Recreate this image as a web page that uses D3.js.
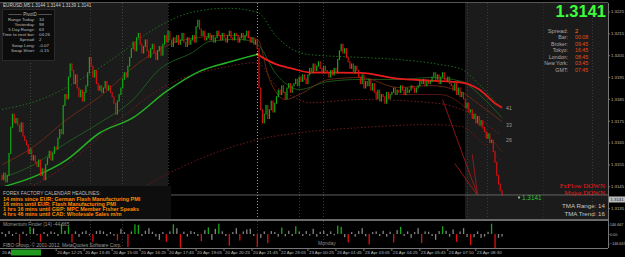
<!DOCTYPE html>
<html>
<head>
<meta charset="utf-8">
<script src="https://cdn.jsdelivr.net/npm/d3@7"></script>
<style>
  body { margin: 0; background: #000; }
  svg { display: block; font-family: "Liberation Sans", Arial, sans-serif; }
</style>
</head>
<body>
<div id="chart"></div>
<script>
// EURUSD M5 closes, one per bar
const closes = [
  1.3148, 1.3151, 1.3147, 1.3150, 1.3160, 1.3172, 1.3178, 1.3174, 1.3176, 1.3173,
  1.3170, 1.3174, 1.3168, 1.3166, 1.3164, 1.3160, 1.3162, 1.3157, 1.3159, 1.3156,
  1.3154, 1.3157, 1.3150, 1.3153, 1.3148, 1.3155, 1.3158, 1.3161, 1.3157, 1.3160,
  1.3163, 1.3162, 1.3167, 1.3171, 1.3169, 1.3182, 1.3187, 1.3185, 1.3195, 1.3201,
  1.3198, 1.3192, 1.3196, 1.3190, 1.3186, 1.3189, 1.3184, 1.3188, 1.3191, 1.3197,
  1.3204, 1.3200, 1.3195, 1.3198, 1.3192, 1.3189, 1.3191, 1.3188, 1.3190, 1.3193,
  1.3189, 1.3191, 1.3188, 1.3186, 1.3183, 1.3178, 1.3184, 1.3187, 1.3190, 1.3194,
  1.3197, 1.3195, 1.3200, 1.3204, 1.3208, 1.3211, 1.3207, 1.3213, 1.3215, 1.3210,
  1.3206, 1.3209, 1.3212, 1.3207, 1.3204, 1.3208, 1.3210, 1.3206, 1.3203, 1.3207,
  1.3209, 1.3205, 1.3210, 1.3214, 1.3211, 1.3216, 1.3212, 1.3209, 1.3213, 1.3211,
  1.3214, 1.3210, 1.3212, 1.3215, 1.3211, 1.3209, 1.3213, 1.3210, 1.3212, 1.3214,
  1.3211, 1.3218, 1.3221, 1.3217, 1.3214, 1.3216, 1.3212, 1.3213, 1.3215, 1.3212,
  1.3214, 1.3211, 1.3213, 1.3216, 1.3214, 1.3212, 1.3215, 1.3213, 1.3211, 1.3214,
  1.3216, 1.3213, 1.3212, 1.3215, 1.3214, 1.3211, 1.3213, 1.3215, 1.3212, 1.3214,
  1.3216, 1.3213, 1.3211, 1.3213, 1.3210, 1.3212, 1.3208, 1.3190, 1.3180, 1.3174,
  1.3178, 1.3182, 1.3176, 1.3180, 1.3184, 1.3179, 1.3183, 1.3186, 1.3189, 1.3187,
  1.3191, 1.3188, 1.3185, 1.3190, 1.3192, 1.3188, 1.3191, 1.3192, 1.3194, 1.3191,
  1.3195, 1.3193, 1.3196, 1.3194, 1.3192, 1.3196, 1.3199, 1.3197, 1.3201, 1.3198,
  1.3200, 1.3202, 1.3199, 1.3197, 1.3200, 1.3198, 1.3197, 1.3195, 1.3198, 1.3196,
  1.3199, 1.3197, 1.3203, 1.3207, 1.3210, 1.3206, 1.3208, 1.3204, 1.3202, 1.3199,
  1.3201, 1.3197, 1.3200, 1.3198, 1.3195, 1.3192, 1.3196, 1.3190, 1.3193, 1.3191,
  1.3194, 1.3189, 1.3192, 1.3188, 1.3185, 1.3189, 1.3184, 1.3187, 1.3186, 1.3183,
  1.3188, 1.3185, 1.3187, 1.3188, 1.3190, 1.3187, 1.3189, 1.3188, 1.3191, 1.3189,
  1.3187, 1.3190, 1.3188, 1.3189, 1.3191, 1.3190, 1.3188, 1.3190, 1.3191, 1.3193,
  1.3192, 1.3194, 1.3191, 1.3193, 1.3192, 1.3193, 1.3195, 1.3197, 1.3194, 1.3196,
  1.3192, 1.3195, 1.3197, 1.3194, 1.3193, 1.3195, 1.3192, 1.3191, 1.3189, 1.3192,
  1.3187, 1.3190, 1.3186, 1.3188, 1.3185, 1.3181, 1.3183, 1.3179, 1.3180, 1.3176,
  1.3178, 1.3174, 1.3177, 1.3173, 1.3175, 1.3172, 1.3170, 1.3167, 1.3169, 1.3165,
  1.3166, 1.3161, 1.3156, 1.3150, 1.3146, 1.3143, 1.3141
];
const firstOpen = 1.3150;

// moving average / band lines, sampled at bar indices
const maIdx = [0, 18, 37, 56, 75, 94, 113, 129, 146, 157, 166, 176, 205, 226, 245, 263, 273, 283, 286];
const maVal = [1.31446, 1.31493, 1.31571, 1.31695, 1.31764, 1.31884, 1.31976, 1.32017, 1.32054, 1.32008,
  1.31989, 1.31971, 1.31969, 1.31943, 1.31934, 1.31925, 1.31893, 1.31824, 1.31810];
const upIdx = [0, 22, 45, 67, 85, 109, 129, 146, 157, 166, 176, 205, 227, 250, 263, 273, 285];
const upVal = [1.31801, 1.31847, 1.31939, 1.32054, 1.32160, 1.32247, 1.32265, 1.32247, 1.32136, 1.32077,
  1.32053, 1.32040, 1.32030, 1.32008, 1.31985, 1.31916, 1.31810];
const lowIdx = [56, 81, 112, 146, 170, 204, 244, 263, 273, 285];
const lowVal = [1.31318, 1.31447, 1.31571, 1.31663, 1.31695, 1.31718, 1.31732, 1.31723, 1.31663, 1.31571];
const midIdx = [0, 33, 67, 90, 129, 146, 157, 166, 176, 205, 245, 263, 285];
const midVal = [1.31387, 1.31525, 1.31755, 1.31893, 1.31998, 1.32016, 1.31906, 1.31861, 1.31833, 1.31847,
  1.31833, 1.31801, 1.31686];
const fastIdx = [0, 18, 37, 56, 75, 90, 109, 119, 136, 146, 157, 170, 187, 205, 227, 245, 263, 273, 286];
const fastVal = [1.31488, 1.31548, 1.31649, 1.31741, 1.31847, 1.31985, 1.32063, 1.32113, 1.32123, 1.32100,
  1.31962, 1.31893, 1.31930, 1.31939, 1.31939, 1.31948, 1.31930, 1.31870, 1.31764];
const brownIdx = [0, 18, 37, 56, 81, 96, 113, 130, 146, 153, 162, 170, 187, 205, 227, 245, 262, 273, 286];
const brownVal = [1.31548, 1.31631, 1.31755, 1.31861, 1.32031, 1.32100, 1.32132, 1.32141, 1.32123, 1.31939,
  1.31847, 1.31870, 1.31939, 1.31948, 1.31902, 1.31911, 1.31884, 1.31824, 1.31746];
const red2Idx = [227, 250, 263, 273, 286];
const red2Val = [1.31870, 1.31870, 1.31824, 1.31732, 1.31608];

// hand drawn trend lines [bar, price, bar, price]
const trendLines = [
  [252, 1.31847, 272, 1.31410],
  [259, 1.31554, 271.5, 1.31414],
  [269, 1.31596, 272, 1.31410]
];

// momentum histogram, one value every second bar
const momentum = [
  30, -40, 45, -30, 20, -180, 35, -25, 110, 90, -20, -120, 30, -35, 40, 25, -30, 160, 50, 120,
  -130, 40, -45, 35, 50, -20, -120, 45, 55, 40, -30, 30, -25, -100, 80, 30, -200, 40, 150, 140,
  -30, 50, 90, 35, -40, -90, 30, -120, 40, 150, 90, -210, 35, -40, 45, 30, -30, -110, 60, 100,
  -90, 80, 160, 40, -30, -180, 30, 90, -100, 40, 70, 80, -30, -200, -60, 40, -140, 45, 30, -40,
  100, -35, 50, -30, 120, 40, -30, 45, -25, 80, -40, 35, 50, -30, 40, -20, 130, 110, -50, -130,
  30, -40, 45, 90, -35, -160, 30, 40, -30, 50, -40, 35, -130, 60, 110, -30, 40, -60, 30, 90,
  -140, 40, 35, -30, -90, 45, 120, 50, -40, 70, -120, 40, 90, -45, -170, -50, 40, -60, -40, 35,
  160, -220, -60, -40
];

const priceTicks = [1.3225, 1.3215, 1.3205, 1.3195, 1.3185, 1.3175, 1.3165, 1.3155, 1.3145, 1.3135];
const momTicks = [146.667, 0, -146.667];
const timeLabels = ["20 Apr 12:25", "20 Apr 13:45", "20 Apr 15:05", "20 Apr 16:25", "20 Apr 17:45",
  "20 Apr 19:05", "20 Apr 20:25", "20 Apr 21:45", "22 Apr 23:05", "23 Apr 00:25", "23 Apr 01:45",
  "23 Apr 03:05", "23 Apr 04:25", "23 Apr 05:45", "23 Apr 07:10", "23 Apr 08:30"];
const timeLabelBar = 31; // first labelled bar, then every 16 bars

const pivotRows = [["Range  Today:", "34"], ["Yesterday:", "98"], ["5 Day Range:", "63"],
  ["Time to next bar:", "04:26"], ["Spread:", "2"], ["Swap  Long:", "-0.07"], ["Swap  Short:", "-0.15"]];
const clockRows = [["Bar:", "00:08"], ["Broker:", "09:45"], ["Tokyo:", "16:45"], ["London:", "08:45"],
  ["New York:", "03:45"], ["GMT:", "07:45"]];
const headlines = ["14 mins since EUR: German Flash Manufacturing PMI", "16 mins until EUR: Flash Manufacturing PMI",
  "1 hrs 16 mins until GBP: MPC Member Fisher Speaks", "4 hrs 46 mins until CAD: Wholesale Sales m/m"];
const bandLabels = [["41", 1.31810], ["33", 1.31732], ["26", 1.31663]];

const W = 625, H = 257;
const plotRight = 608, mainTop = 3, mainBottom = 219, subTop = 221, subBottom = 248;

const svg = d3.select("#chart").append("svg").attr("width", W).attr("height", H);
svg.append("rect").attr("width", W).attr("height", H).attr("fill", "#000");

// scales
const x = d3.scaleLinear().domain([0, closes.length - 1]).range([2, 502]);
const y = d3.scaleLinear().domain([1.3130, 1.3228]).range([mainBottom, 5]);
const ym = d3.scaleLinear().domain([-146.667, 146.667]).range([243.5, 224.5]);

// session shading
[[0, 168], [465, plotRight]].forEach(([a, b]) => {
  svg.append("rect").attr("x", a).attr("y", mainTop).attr("width", b - a)
    .attr("height", mainBottom - mainTop).attr("fill", "#1b1b1b");
});

// vertical dotted separators
[[30, "#3a4a3a"], [90, "#3a3a3a"], [122, "#3a4a3a"], [168, "#333"], [257, "#9a9a9a"], [299, "#3a3a3a"],
 [323, "#3a3a3a"], [467, "#3a3a3a"], [487, "#3a3a3a"], [543, "#1c2a55"], [592, "#3a3a3a"]].forEach(([vx, c]) => {
  svg.append("line").attr("x1", vx + 0.5).attr("x2", vx + 0.5).attr("y1", mainTop).attr("y2", mainBottom)
    .attr("stroke", c).attr("stroke-width", 1).attr("stroke-dasharray", "1,2");
});
[[30], [90], [122], [257], [323]].forEach(([vx]) => {
  svg.append("line").attr("x1", vx + 0.5).attr("x2", vx + 0.5).attr("y1", subTop).attr("y2", subBottom)
    .attr("stroke", "#333").attr("stroke-dasharray", "1,2");
});

// line helper
function drawLine(idx, vals, color, width, dash) {
  const pts = idx.map((b, i) => [b, vals[i]]);
  svg.append("path")
    .datum(pts)
    .attr("fill", "none")
    .attr("stroke", color)
    .attr("stroke-width", width)
    .attr("stroke-dasharray", dash || null)
    .attr("d", d3.line().x((d) => x(d[0])).y((d) => y(d[1])).curve(d3.curveMonotoneX));
}

drawLine(upIdx, upVal, "#1f6e1f", 1, "1.5,2");
drawLine(lowIdx, lowVal, "#6e1a1a", 1, "1.5,2");
drawLine(midIdx, midVal, "#7a1c1c", 1, "1.5,2");
drawLine(fastIdx, fastVal, "#1f6a1f", 0.8);
drawLine(brownIdx, brownVal, "#7a2e14", 0.8);
drawLine(red2Idx, red2Val, "#6a1a10", 0.8);

// thick MA: green while rising, red once it rolls over
const turn = maIdx.indexOf(146);
drawLine(maIdx.slice(0, turn + 1), maVal.slice(0, turn + 1), "#25b025", 1.5);
drawLine(maIdx.slice(turn), maVal.slice(turn), "#e81c1c", 1.8);
svg.append("circle").attr("cx", x(146)).attr("cy", y(maVal[turn])).attr("r", 1).attr("fill", "#e8e83a");

// candles (open = previous close)
svg.append("g")
  .selectAll("rect")
  .data(closes)
  .join("rect")
  .attr("x", (d, i) => x(i) - 0.6)
  .attr("width", 1.2)
  .attr("y", (d, i) => y(Math.max(d, i ? closes[i - 1] : firstOpen)) - 0.5)
  .attr("height", (d, i) => Math.abs(y(d) - y(i ? closes[i - 1] : firstOpen)) + 1)
  .attr("fill", (d, i) => (d >= (i ? closes[i - 1] : firstOpen) ? "#12a812" : "#d41111"));

// trend lines
trendLines.forEach((t) => {
  svg.append("line").attr("x1", x(t[0])).attr("y1", y(t[1])).attr("x2", x(t[2])).attr("y2", y(t[3]))
    .attr("stroke", "#b01a1a").attr("stroke-width", 0.8);
});

// current price line
const last = closes[closes.length - 1];
svg.append("line").attr("x1", 0).attr("x2", plotRight).attr("y1", y(last)).attr("y2", y(last))
  .attr("stroke", "#777").attr("stroke-width", 0.8);

// frame, pane separator and axes
svg.append("line").attr("x1", 0).attr("x2", plotRight).attr("y1", 2.5).attr("y2", 2.5).attr("stroke", "#555");
svg.append("rect").attr("x", 0).attr("y", mainBottom).attr("width", plotRight).attr("height", 2).attr("fill", "#6a6a6a");
svg.append("line").attr("x1", 0).attr("x2", plotRight).attr("y1", subBottom + 0.5).attr("y2", subBottom + 0.5).attr("stroke", "#777");
svg.append("line").attr("x1", plotRight + 0.5).attr("x2", plotRight + 0.5).attr("y1", mainTop).attr("y2", subBottom)
  .attr("stroke", "#777");

const yAxis = svg.append("g").attr("transform", `translate(${plotRight},0)`)
  .call(d3.axisRight(y).tickValues(priceTicks).tickSize(2).tickFormat(d3.format(".4f")));
yAxis.select(".domain").remove();
yAxis.selectAll("line").attr("stroke", "#777");
yAxis.selectAll("text").attr("fill", "#bdbdbd").attr("font-size", 4.3).attr("x", 3);

const mAxis = svg.append("g").attr("transform", `translate(${plotRight},0)`)
  .call(d3.axisRight(ym).tickValues(momTicks).tickSize(1.5).tickFormat((d) => (d === 0 ? "0.00" : d3.format(".3f")(d))));
mAxis.select(".domain").remove();
mAxis.selectAll("line").attr("stroke", "#777");
mAxis.selectAll("text").attr("fill", "#bdbdbd").attr("font-size", 3.7).attr("x", 2);

// price tag on axis
svg.append("rect").attr("x", plotRight + 1).attr("y", y(last) + 1.5).attr("width", 16).attr("height", 6).attr("fill", "#bcbcbc");
svg.append("text").attr("x", plotRight + 2.5).attr("y", y(last) + 6.3).attr("fill", "#222").attr("font-size", 4.3)
  .text(d3.format(".4f")(last));

// momentum histogram
svg.append("g")
  .selectAll("rect")
  .data(momentum)
  .join("rect")
  .attr("x", (d, i) => x(i * 2) - 0.6)
  .attr("width", 1.3)
  .attr("y", (d) => Math.max(subTop, Math.min(ym(d), ym(0))))
  .attr("height", (d) => Math.min(Math.abs(ym(d) - ym(0)), d > 0 ? ym(0) - subTop : subBottom - ym(0)))
  .attr("fill", (d) => (d > 95 ? "#16a816" : d < -95 ? "#e01010" : "#858585"));

// time axis
svg.append("text").attr("x", 2).attr("y", 254).attr("fill", "#bdbdbd").attr("font-size", 4.4).text("20 Apr 11:05");
svg.append("rect").attr("x", 11).attr("y", 249.5).attr("width", 30).attr("height", 6).attr("fill", "#1f9a1f");
timeLabels.forEach((t, i) => {
  const tx = x(timeLabelBar + i * 16);
  svg.append("line").attr("x1", tx).attr("x2", tx).attr("y1", subBottom).attr("y2", subBottom + 3).attr("stroke", "#777");
  svg.append("text").attr("x", tx + 1).attr("y", 254).attr("fill", "#bdbdbd").attr("font-size", 4.4).text(t);
});

// header + pivot box
svg.append("text").attr("x", 3).attr("y", 7).attr("fill", "#cfcfcf").attr("font-size", 4.6)
  .text("EURUSD,M5  1.3144 1.3144 1.3139 1.3141");
svg.append("rect").attr("x", 2.5).attr("y", 9.5).attr("width", 52).attr("height", 51).attr("fill", "#0c0c0c").attr("stroke", "#2a2a2a");
svg.append("text").attr("x", 30).attr("y", 16).attr("text-anchor", "middle").attr("fill", "#bbb").attr("font-size", 4.6)
  .text("———  PivotD  ———");
pivotRows.forEach((r, i) => {
  svg.append("text").attr("x", 35).attr("y", 21 + i * 5.1).attr("text-anchor", "end").attr("fill", "#bbb").attr("font-size", 4.4).text(r[0]);
  svg.append("text").attr("x", 39).attr("y", 21 + i * 5.1).attr("fill", "#bbb").attr("font-size", 4.4).text(r[1]);
});

// forex factory headlines box
svg.append("rect").attr("x", 0).attr("y", 186).attr("width", 171).attr("height", mainBottom - 186).attr("fill", "#0e0e0e");
svg.append("text").attr("x", 3).attr("y", 194.5).attr("fill", "#bbb").attr("font-size", 4.8).text("FOREX FACTORY CALENDAR HEADLINES:");
headlines.forEach((h, i) => {
  svg.append("text").attr("x", 3).attr("y", 200.5 + i * 5.2).attr("fill", "#ff8a00").attr("font-weight", "bold")
    .attr("font-size", 5.4).text(h);
});

// indicator pane texts
svg.append("text").attr("x", 3).attr("y", 226).attr("fill", "#9a9a9a").attr("font-size", 4.8).text("Momentum Finder (14) -44.665");
svg.append("text").attr("x", 3).attr("y", 247).attr("fill", "#9a9a9a").attr("font-size", 4.8)
  .text("FIBO Group, © 2001-2012, MetaQuotes Software Corp.");
svg.append("text").attr("x", 318).attr("y", 245).attr("fill", "#8a8a8a").attr("font-size", 5).text("Monday");

// right info panel
svg.append("text").attr("x", 606).attr("y", 17).attr("text-anchor", "end").attr("fill", "#3cff3c")
  .attr("font-weight", "bold").attr("font-size", 16.5).text("1.3141");
svg.append("text").attr("x", 568).attr("y", 33).attr("text-anchor", "end").attr("fill", "#a8a8a8").attr("font-size", 5.8).text("Spread:");
svg.append("text").attr("x", 575).attr("y", 33).attr("fill", "#ff7a1a").attr("font-size", 5.8).text("2");
clockRows.forEach((r, i) => {
  svg.append("text").attr("x", 568).attr("y", 39 + i * 6.5).attr("text-anchor", "end").attr("fill", "#a8a8a8").attr("font-size", 5.3).text(r[0]);
  svg.append("text").attr("x", 575).attr("y", 39 + i * 6.5).attr("fill", "#e0501a").attr("font-size", 5.3).text(r[1]);
});
bandLabels.forEach((b) => {
  svg.append("text").attr("x", 506).attr("y", y(b[1]) + 2).attr("fill", "#9a9a9a").attr("font-size", 5.2).text(b[0]);
});
svg.append("text").attr("x", 605).attr("y", 188).attr("text-anchor", "end").attr("fill", "#ee1c1c")
  .attr("font-family", "Liberation Serif, serif").attr("font-size", 7).text("FxFlow DOWN");
svg.append("text").attr("x", 605).attr("y", 195).attr("text-anchor", "end").attr("fill", "#ee1c1c")
  .attr("font-family", "Liberation Serif, serif").attr("font-size", 7).text("Major DOWN");
svg.append("text").attr("x", 605).attr("y", 208).attr("text-anchor", "end").attr("fill", "#c4c4c4").attr("font-size", 6.2).text("TMA Range: 14");
svg.append("text").attr("x", 605).attr("y", 216).attr("text-anchor", "end").attr("fill", "#c4c4c4").attr("font-size", 6.2).text("TMA Trend: 16");
svg.append("rect").attr("x", 518).attr("y", y(last) + 1.5).attr("width", 2).attr("height", 2).attr("fill", "#8ab08a");
svg.append("text").attr("x", 522).attr("y", y(last) + 5).attr("fill", "#33c433").attr("font-size", 6.4).text("1.3141");
</script>
</body>
</html>
